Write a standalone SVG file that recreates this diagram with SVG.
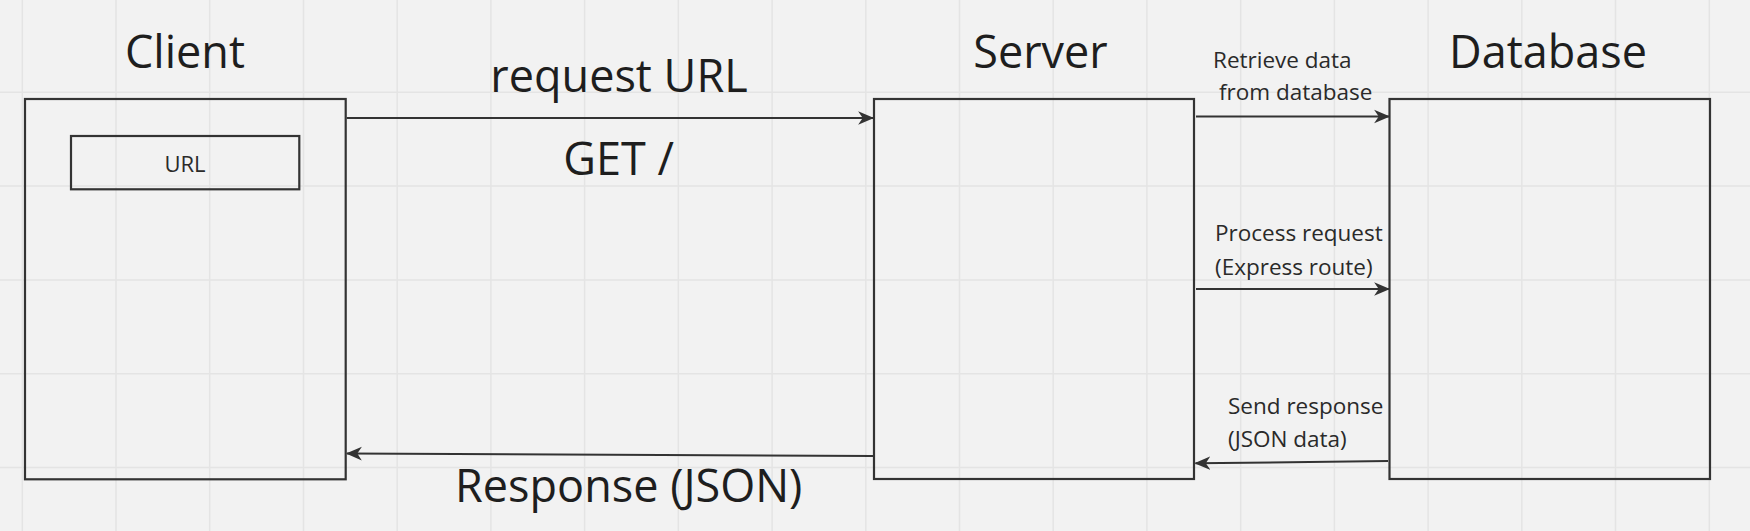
<svg xmlns="http://www.w3.org/2000/svg" width="1750" height="531" viewBox="0 0 1750 531">
  <style>
    .grid { stroke: #e4e4e4; stroke-width: 1.5; fill: none; }
    .box { fill: none; stroke: #333333; stroke-width: 2.2; }
    .conn { stroke: #333333; stroke-width: 2; fill: none; marker-end: url(#arrow); }
    .title { font-family: "Open Sans", "Noto Sans", sans-serif; font-size: 45px; fill: #1e1e1e; text-anchor: middle; }
    .label { font-family: "Open Sans", "Noto Sans", sans-serif; font-size: 22.5px; fill: #2a2a2a; }
    .small { font-family: "Open Sans", "Noto Sans", sans-serif; font-size: 22px; fill: #2a2a2a; text-anchor: middle; }
  </style>
  <defs>
    <marker id="arrow" markerUnits="userSpaceOnUse" markerWidth="16" markerHeight="16" viewBox="0 0 14 14" refX="13" refY="7" orient="auto">
      <path d="M0,1 L14,7 L0,13 L4,7 z" fill="#333333"/>
    </marker>
  </defs>
  <rect x="0" y="0" width="1750" height="531" fill="#f2f2f2"/>
  <path class="grid" d="M22.3,0V531 M116,0V531 M209.7,0V531 M303.5,0V531 M397.2,0V531 M490.9,0V531 M584.6,0V531 M678.3,0V531 M772.1,0V531 M865.8,0V531 M959.5,0V531 M1053.2,0V531 M1146.9,0V531 M1240.7,0V531 M1334.4,0V531 M1428.1,0V531 M1521.8,0V531 M1615.5,0V531 M1709.3,0V531 M0,92.3H1750 M0,186.1H1750 M0,279.9H1750 M0,373.7H1750 M0,467.5H1750"/>

  <g id="client">
    <text class="title" x="185" y="68">Client</text>
    <rect class="box" x="25" y="99" width="320.7" height="380.3"/>
  </g>
  <g id="url">
    <rect class="box" x="71" y="136" width="228.3" height="53.3"/>
    <text class="small" x="185" y="172">URL</text>
  </g>
  <g id="server">
    <text class="title" x="1040.5" y="68.3">Server</text>
    <rect class="box" x="874" y="99" width="320" height="380"/>
  </g>
  <g id="database">
    <text class="title" x="1548" y="68.3">Database</text>
    <rect class="box" x="1389.5" y="99" width="320.5" height="380"/>
  </g>

  <g id="connectors">
    <line class="conn" x1="346.7" y1="118" x2="873" y2="118"/>
    <line class="conn" x1="1196" y1="116.5" x2="1389" y2="116.5"/>
    <line class="conn" x1="1196" y1="289" x2="1389" y2="289"/>
    <line class="conn" x1="1388" y1="461" x2="1195.5" y2="463.3"/>
    <line class="conn" x1="873" y1="456" x2="347" y2="453.5"/>
  </g>

  <g id="labels">
    <text class="title" x="619" y="92.3">request URL</text>
    <text class="title" x="618.7" y="175">GET /</text>
    <text class="title" x="628.7" y="501.7">Response (JSON)</text>
    <text class="label" x="1213" y="68.3">Retrieve data</text>
    <text class="label" x="1219" y="100">from database</text>
    <text class="label" x="1215" y="241">Process request</text>
    <text class="label" x="1215" y="274.5">(Express route)</text>
    <text class="label" x="1228" y="414.3">Send response</text>
    <text class="label" x="1228" y="446.7">(JSON data)</text>
  </g>
</svg>
